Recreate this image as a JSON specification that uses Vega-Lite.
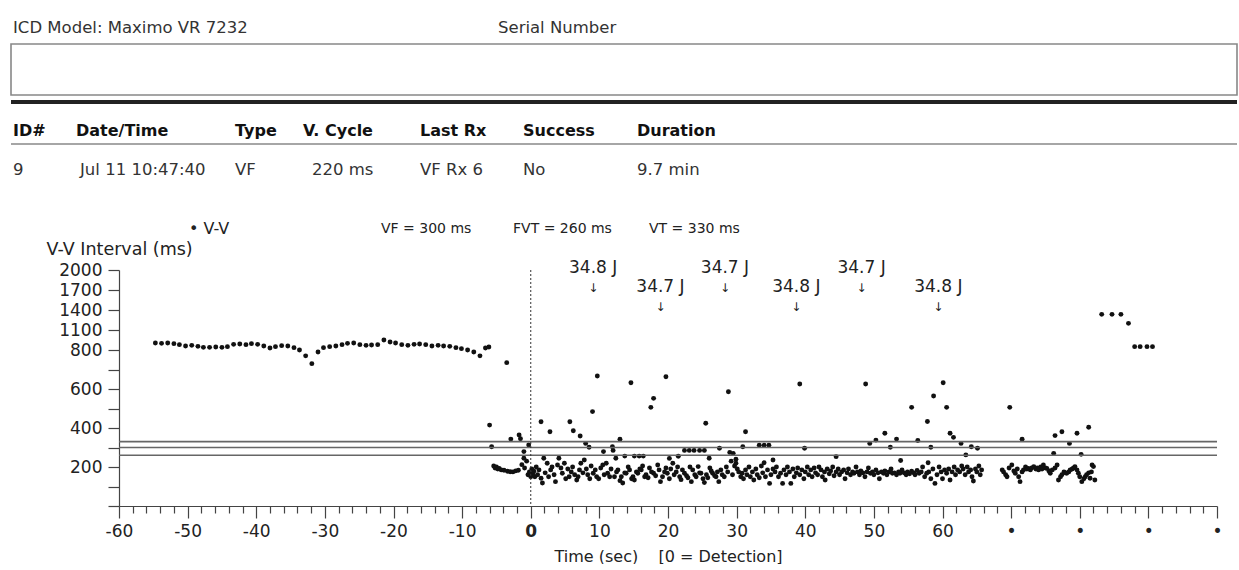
{
  "$schema": "https://vega.github.io/schema/vega-lite/v6.json",
  "autosize": {"type": "pad"},
  "padding": {"left": 9, "top": 0, "right": 0, "bottom": 0},
  "background": "white",
  "spacing": 0,
  "bounds": "flush",
  "config": {
    "view": {"stroke": null},
    "font": "DejaVu Sans",
    "axis": {"labelFont": "DejaVu Sans", "titleFont": "DejaVu Sans", "labelFontSize": 16, "titleFontSize": 16, "titleFontWeight": "normal", "labelColor": "#222", "titleColor": "#222", "domainColor": "#444", "tickColor": "#444", "domainWidth": 1.2, "tickWidth": 1.2, "grid": false}
  },
  "datasets": {
    "pts": [
      {"t":-54.7,"v":905},{"t":-53.8,"v":900},{"t":-52.9,"v":905},{"t":-52.0,"v":895},{"t":-51.2,"v":880},{"t":-50.3,"v":860},{"t":-49.4,"v":870},{"t":-48.5,"v":855},{"t":-47.7,"v":840},{"t":-46.8,"v":840},{"t":-45.9,"v":845},{"t":-45.0,"v":840},{"t":-44.2,"v":850},{"t":-43.3,"v":885},{"t":-42.4,"v":890},{"t":-41.5,"v":880},{"t":-40.7,"v":895},{"t":-39.8,"v":885},{"t":-38.9,"v":860},{"t":-38.0,"v":830},{"t":-37.2,"v":850},{"t":-36.3,"v":865},{"t":-35.4,"v":860},{"t":-34.5,"v":835},{"t":-33.7,"v":800},{"t":-32.8,"v":770},{"t":-31.9,"v":730},{"t":-31.0,"v":790},{"t":-30.2,"v":835},{"t":-29.3,"v":850},{"t":-28.4,"v":860},{"t":-27.5,"v":880},{"t":-26.7,"v":900},{"t":-25.8,"v":905},{"t":-24.9,"v":880},{"t":-24.0,"v":870},{"t":-23.2,"v":875},{"t":-22.3,"v":880},{"t":-21.4,"v":950},{"t":-20.5,"v":920},{"t":-19.7,"v":905},{"t":-18.8,"v":880},{"t":-17.9,"v":870},{"t":-17.0,"v":885},{"t":-16.2,"v":890},{"t":-15.3,"v":880},{"t":-14.4,"v":860},{"t":-13.5,"v":870},{"t":-12.7,"v":860},{"t":-11.8,"v":855},{"t":-10.9,"v":835},{"t":-10.1,"v":820},{"t":-9.2,"v":800},{"t":-8.3,"v":790},{"t":-7.4,"v":770},{"t":-6.6,"v":830},{"t":-6.1,"v":845},
      {"t":-6.0,"v":415},{"t":-5.7,"v":304},{"t":-3.5,"v":735},{"t":-2.9,"v":343},{"t":-1.7,"v":364},{"t":-1.5,"v":345},{"t":-1.0,"v":279},{"t":-1.0,"v":245},{"t":-0.3,"v":313},{"t":1.5,"v":432},{"t":2.8,"v":381},{"t":5.7,"v":432},{"t":6.2,"v":386},{"t":7.2,"v":359},{"t":8.0,"v":321},{"t":8.5,"v":301},{"t":9.0,"v":484},{"t":9.7,"v":667},{"t":10.6,"v":279},{"t":11.9,"v":304},{"t":12.0,"v":285},{"t":13.0,"v":342},{"t":12.4,"v":245},{"t":14.6,"v":632},{"t":13.7,"v":256},{"t":15.1,"v":256},{"t":15.8,"v":256},{"t":16.4,"v":256},{"t":17.5,"v":506},{"t":17.9,"v":552},{"t":19.7,"v":663},{"t":20.2,"v":244},{"t":21.5,"v":255},{"t":22.4,"v":285},{"t":23.1,"v":285},{"t":23.8,"v":285},{"t":24.6,"v":285},{"t":25.3,"v":285},{"t":25.5,"v":424},{"t":26.0,"v":245},{"t":27.5,"v":296},{"t":28.8,"v":586},{"t":29.0,"v":275},{"t":29.5,"v":270},{"t":29.9,"v":240},{"t":31.3,"v":381},{"t":30.9,"v":304},{"t":33.3,"v":312},{"t":34.0,"v":312},{"t":34.7,"v":312},{"t":34.0,"v":222},{"t":35.3,"v":236},{"t":39.2,"v":626},{"t":39.9,"v":296},{"t":44.5,"v":253},{"t":48.8,"v":626},{"t":49.4,"v":321},{"t":50.3,"v":338},{"t":51.6,"v":373},{"t":52.4,"v":301},{"t":53.3,"v":343},{"t":53.9,"v":233},{"t":55.5,"v":506},{"t":56.4,"v":336},{"t":57.8,"v":433},{"t":57.9,"v":222},{"t":58.3,"v":301},{"t":58.7,"v":564},{"t":60.1,"v":632},{"t":60.6,"v":506},{"t":61.1,"v":373},{"t":61.6,"v":352},{"t":62.7,"v":321},{"t":63.4,"v":262},{"t":64.2,"v":304},{"t":65.1,"v":296},{"t":69.8,"v":506},{"t":71.6,"v":342},{"t":76.2,"v":270},{"t":76.4,"v":361},{"t":77.4,"v":381},{"t":78.5,"v":321},{"t":79.6,"v":373},{"t":80.2,"v":265},{"t":81.3,"v":404},{"t":81.8,"v":210},
      {"t":-5.4,"v":205},{"t":-5.2,"v":195},{"t":-5.0,"v":200},{"t":-4.8,"v":190},{"t":-4.6,"v":192},{"t":-4.3,"v":185},{"t":-3.9,"v":183},{"t":-3.4,"v":178},{"t":-3.0,"v":176},{"t":-2.6,"v":175},{"t":-2.2,"v":180},{"t":-1.8,"v":183},{"t":-1.3,"v":212},{"t":-0.9,"v":195},{"t":-0.6,"v":230},{"t":-0.4,"v":160},{"t":-0.2,"v":175},{"t":0.0,"v":150},{"t":0.15,"v":190},{"t":0.3,"v":165},{"t":0.45,"v":178},{"t":0.6,"v":150},{"t":0.8,"v":200},{"t":1.0,"v":160},
      {"t":1.2,"v":185},{"t":1.5,"v":142},{"t":1.7,"v":118},{"t":1.9,"v":245},{"t":2.1,"v":170},{"t":2.4,"v":219},{"t":2.6,"v":150},{"t":2.9,"v":185},{"t":3.1,"v":200},{"t":3.4,"v":160},{"t":3.6,"v":125},{"t":3.9,"v":210},{"t":4.1,"v":245},{"t":4.4,"v":195},{"t":4.6,"v":168},{"t":4.9,"v":219},{"t":5.1,"v":140},{"t":5.4,"v":190},{"t":5.6,"v":150},{"t":5.9,"v":175},{"t":6.1,"v":200},{"t":6.4,"v":160},{"t":6.7,"v":133},{"t":6.9,"v":150},{"t":7.1,"v":185},{"t":7.3,"v":219},{"t":7.6,"v":170},{"t":7.8,"v":236},{"t":8.1,"v":190},{"t":8.3,"v":160},{"t":8.6,"v":140},{"t":8.8,"v":205},{"t":9.1,"v":168},{"t":9.4,"v":185},{"t":9.6,"v":150},{"t":9.9,"v":140},{"t":10.2,"v":195},{"t":10.5,"v":210},{"t":10.7,"v":160},{"t":11.0,"v":219},{"t":11.2,"v":168},{"t":11.5,"v":150},{"t":11.7,"v":190},{"t":12.2,"v":150},{"t":12.5,"v":175},{"t":12.7,"v":185},{"t":13.0,"v":130},{"t":13.2,"v":150},{"t":13.4,"v":118},{"t":13.7,"v":170},{"t":13.9,"v":168},{"t":14.2,"v":200},{"t":14.4,"v":185},{"t":14.7,"v":140},{"t":14.9,"v":150},{"t":15.1,"v":133},{"t":15.4,"v":175},{"t":15.6,"v":168},{"t":15.9,"v":190},{"t":16.1,"v":185},{"t":16.3,"v":205},{"t":16.6,"v":150},{"t":16.8,"v":160},{"t":17.1,"v":145},{"t":17.3,"v":195},{"t":17.6,"v":175},{"t":17.9,"v":168},{"t":18.2,"v":155},{"t":18.5,"v":210},{"t":18.7,"v":185},{"t":18.9,"v":125},{"t":19.2,"v":150},{"t":19.5,"v":175},{"t":19.7,"v":195},{"t":19.9,"v":168},{"t":20.2,"v":140},{"t":20.4,"v":190},{"t":20.7,"v":219},{"t":20.9,"v":160},{"t":21.2,"v":175},{"t":21.4,"v":200},{"t":21.7,"v":150},{"t":21.9,"v":135},{"t":22.1,"v":185},{"t":22.4,"v":168},{"t":22.7,"v":155},{"t":22.9,"v":145},{"t":23.2,"v":200},{"t":23.4,"v":125},{"t":23.6,"v":185},{"t":23.9,"v":160},{"t":24.1,"v":150},{"t":24.4,"v":202},{"t":24.6,"v":170},{"t":24.8,"v":168},{"t":25.1,"v":140},{"t":25.3,"v":120},{"t":25.6,"v":160},{"t":25.8,"v":145},{"t":26.1,"v":195},{"t":26.3,"v":180},{"t":26.5,"v":168},{"t":26.8,"v":155},{"t":27.0,"v":150},{"t":27.2,"v":175},{"t":27.4,"v":125},{"t":27.7,"v":185},{"t":27.9,"v":160},{"t":28.2,"v":150},{"t":28.5,"v":200},{"t":28.7,"v":175},{"t":29.2,"v":230},{"t":29.4,"v":160},
      {"t":29.7,"v":205},{"t":29.9,"v":219},{"t":30.1,"v":190},{"t":30.3,"v":175},{"t":30.6,"v":150},{"t":30.8,"v":168},{"t":31.0,"v":140},{"t":31.3,"v":185},{"t":31.5,"v":160},{"t":31.8,"v":200},{"t":32.0,"v":150},{"t":32.3,"v":175},{"t":32.5,"v":133},{"t":32.8,"v":190},{"t":33.0,"v":160},{"t":33.3,"v":145},{"t":33.6,"v":205},{"t":33.8,"v":170},{"t":34.2,"v":150},{"t":34.5,"v":185},{"t":34.8,"v":116},{"t":35.0,"v":160},{"t":35.3,"v":190},{"t":35.6,"v":175},{"t":35.8,"v":200},{"t":36.1,"v":150},{"t":36.4,"v":168},{"t":36.7,"v":116},{"t":36.9,"v":185},{"t":37.2,"v":160},{"t":37.4,"v":200},{"t":37.7,"v":175},{"t":37.9,"v":116},{"t":38.2,"v":190},{"t":38.4,"v":150},{"t":38.7,"v":170},{"t":38.9,"v":195},{"t":39.2,"v":160},{"t":39.5,"v":185},{"t":39.8,"v":140},{"t":40.0,"v":175},{"t":40.3,"v":200},{"t":40.5,"v":160},{"t":40.8,"v":185},{"t":41.0,"v":150},{"t":41.3,"v":195},{"t":41.5,"v":170},{"t":41.8,"v":160},{"t":42.0,"v":200},{"t":42.3,"v":185},{"t":42.5,"v":150},{"t":42.8,"v":175},{"t":42.9,"v":133},{"t":43.2,"v":190},{"t":43.5,"v":165},{"t":43.7,"v":180},{"t":44.0,"v":200},{"t":44.2,"v":155},{"t":44.5,"v":175},{"t":44.8,"v":190},{"t":45.0,"v":160},{"t":45.3,"v":175},{"t":45.6,"v":185},{"t":45.8,"v":140},{"t":46.1,"v":170},{"t":46.3,"v":190},{"t":46.6,"v":160},{"t":46.9,"v":175},{"t":47.1,"v":168},{"t":47.4,"v":200},{"t":47.6,"v":175},{"t":47.9,"v":160},{"t":48.1,"v":180},{"t":48.4,"v":170},{"t":48.7,"v":150},{"t":49.0,"v":175},{"t":49.2,"v":195},{"t":49.5,"v":168},{"t":49.8,"v":175},{"t":50.0,"v":160},{"t":50.3,"v":185},{"t":50.6,"v":170},{"t":50.8,"v":140},{"t":51.1,"v":175},{"t":51.4,"v":168},{"t":51.6,"v":180},{"t":51.9,"v":160},{"t":52.2,"v":175},{"t":52.5,"v":190},{"t":52.7,"v":168},{"t":53.0,"v":170},{"t":53.3,"v":160},{"t":53.6,"v":175},{"t":53.8,"v":168},{"t":54.1,"v":185},{"t":54.4,"v":170},{"t":54.7,"v":160},{"t":54.9,"v":175},{"t":55.2,"v":165},{"t":55.5,"v":178},{"t":55.8,"v":170},{"t":56.0,"v":160},{"t":56.3,"v":182},{"t":56.6,"v":168},{"t":56.9,"v":175},{"t":57.1,"v":200},{"t":57.4,"v":150},{"t":57.7,"v":168},{"t":58.0,"v":175},{"t":58.3,"v":140},{"t":58.6,"v":190},{"t":58.9,"v":116},{"t":59.2,"v":160},{"t":59.5,"v":200},{"t":59.8,"v":175},{"t":60.0,"v":140},{"t":60.3,"v":185},{"t":60.6,"v":168},{"t":60.9,"v":190},{"t":61.1,"v":133},{"t":61.4,"v":175},{"t":61.7,"v":200},{"t":61.9,"v":160},{"t":62.2,"v":185},{"t":62.5,"v":175},{"t":62.8,"v":205},{"t":63.0,"v":190},{"t":63.3,"v":160},{"t":63.6,"v":200},{"t":63.8,"v":175},{"t":64.1,"v":185},{"t":64.3,"v":150},{"t":64.5,"v":128},{"t":64.8,"v":190},{"t":65.0,"v":175},{"t":65.3,"v":205},{"t":65.5,"v":160},{"t":65.7,"v":185},
      {"t":68.7,"v":185},{"t":68.9,"v":175},{"t":69.2,"v":160},{"t":69.4,"v":150},{"t":69.7,"v":195},{"t":70.1,"v":210},{"t":70.4,"v":180},{"t":70.6,"v":168},{"t":70.9,"v":190},{"t":71.1,"v":150},{"t":71.3,"v":125},{"t":71.6,"v":175},{"t":71.8,"v":185},{"t":72.1,"v":200},{"t":72.3,"v":190},{"t":72.5,"v":193},{"t":72.8,"v":185},{"t":73.0,"v":195},{"t":73.3,"v":202},{"t":73.6,"v":190},{"t":73.8,"v":195},{"t":74.0,"v":185},{"t":74.3,"v":200},{"t":74.5,"v":190},{"t":74.7,"v":210},{"t":75.0,"v":195},{"t":75.2,"v":193},{"t":75.5,"v":180},{"t":75.7,"v":168},{"t":76.0,"v":185},{"t":76.4,"v":195},{"t":76.7,"v":210},{"t":76.9,"v":133},{"t":77.2,"v":150},{"t":77.4,"v":160},{"t":77.7,"v":175},{"t":77.9,"v":170},{"t":78.1,"v":168},{"t":78.4,"v":175},{"t":78.6,"v":185},{"t":78.9,"v":190},{"t":79.1,"v":195},{"t":79.3,"v":202},{"t":79.6,"v":185},{"t":79.8,"v":168},{"t":80.0,"v":150},{"t":80.3,"v":125},{"t":80.6,"v":140},{"t":80.8,"v":150},{"t":81.0,"v":160},{"t":81.3,"v":170},{"t":81.5,"v":142},{"t":81.7,"v":175},{"t":82.0,"v":202},{"t":82.2,"v":133},
      {"t":83.2,"v":1335},{"t":84.7,"v":1335},{"t":86.0,"v":1335},{"t":87.1,"v":1200},{"t":88.0,"v":850},{"t":88.8,"v":850},{"t":89.8,"v":850},{"t":90.6,"v":850}
    ],
    "zones": [{"zone":"VT","ms":330},{"zone":"VF","ms":300},{"zone":"FVT","ms":260}],
    "shocks": [
      {"t":9.1,"e":"34.8 J","tier":"high"},{"t":18.9,"e":"34.7 J","tier":"low"},{"t":28.3,"e":"34.7 J","tier":"high"},
      {"t":38.7,"e":"34.8 J","tier":"low"},{"t":48.2,"e":"34.7 J","tier":"high"},{"t":59.4,"e":"34.8 J","tier":"low"}
    ],
    "hdr": [
      {"txt":"ICD Model: Maximo VR 7232","c":1,"r":0,"s":"plain"},
      {"txt":"Serial Number","c":10,"r":0,"s":"plain"},
      {"txt":"ID#","c":1,"r":4,"s":"bold"},{"txt":"Date/Time","c":2,"r":4,"s":"bold"},{"txt":"Type","c":5,"r":4,"s":"bold"},{"txt":"V. Cycle","c":6,"r":4,"s":"bold"},{"txt":"Last Rx","c":9,"r":4,"s":"bold"},{"txt":"Success","c":12,"r":4,"s":"bold"},{"txt":"Duration","c":13,"r":4,"s":"bold"},
      {"txt":"9","c":1,"r":6,"s":"plain"},{"txt":"Jul 11 10:47:40","c":3,"r":6,"s":"plain"},{"txt":"VF","c":5,"r":6,"s":"plain"},{"txt":"220 ms","c":7,"r":6,"s":"plain"},{"txt":"VF Rx 6","c":9,"r":6,"s":"plain"},{"txt":"No","c":12,"r":6,"s":"plain"},{"txt":"9.7 min","c":13,"r":6,"s":"plain"},
      {"txt":"•\u00a0V-V","c":4,"r":7,"s":"key"},{"txt":"VF = 300 ms","c":8,"r":7,"s":"legend"},{"txt":"FVT = 260 ms","c":11,"r":7,"s":"legend"},{"txt":"VT = 330 ms","c":14,"r":7,"s":"legend"}
    ],
    "hlines": [
      {"kind":"box","c":0,"c2":15,"r":1,"r2":2},
      {"kind":"thick","c":0,"c2":15,"r":3,"r2":3},
      {"kind":"thin","c":0,"c2":15,"r":5,"r2":5}
    ]
  },
  "vconcat": [
    {
      "width": 1098,
      "height": 270,
      "encoding": {
        "x": {"field": "c", "type": "quantitative", "scale": {"domain": [0,1,2,3,4,5,6,7,8,9,10,11,12,13,14,15], "range": [-108,-106,-43,-39,70,116,184,193,262,301,379,394,404,518,530,1118], "nice": false, "zero": false}, "axis": null},
        "y": {"field": "r", "type": "quantitative", "scale": {"domain": [0,1,2,3,4,5,6,7], "range": [28,44,95,102,131,144,170,229], "nice": false, "zero": false}, "axis": null}
      },
      "layer": [
        {
          "data": {"name": "hlines"},
          "transform": [{"filter": "datum.kind === 'box'"}],
          "mark": {"type": "rect", "fill": null, "fillOpacity": 0, "stroke": "#888", "strokeWidth": 1.6},
          "encoding": {"x2": {"field": "c2"}, "y2": {"field": "r2"}}
        },
        {
          "data": {"name": "hlines"},
          "transform": [{"filter": "datum.kind === 'thick'"}],
          "mark": {"type": "rule", "color": "#222", "strokeWidth": 4},
          "encoding": {"x2": {"field": "c2"}}
        },
        {
          "data": {"name": "hlines"},
          "transform": [{"filter": "datum.kind === 'thin'"}],
          "mark": {"type": "rule", "color": "#888", "strokeWidth": 1.6},
          "encoding": {"x2": {"field": "c2"}}
        },
        {
          "data": {"name": "hdr"},
          "transform": [{"filter": "datum.s === 'plain'"}],
          "mark": {"type": "text", "font": "DejaVu Sans", "fontSize": 16.5, "color": "#333", "align": "left", "baseline": "middle"},
          "encoding": {"text": {"field": "txt"}}
        },
        {
          "data": {"name": "hdr"},
          "transform": [{"filter": "datum.s === 'bold'"}],
          "mark": {"type": "text", "font": "DejaVu Sans", "fontSize": 16, "fontWeight": "bold", "color": "#111", "align": "left", "baseline": "middle"},
          "encoding": {"text": {"field": "txt"}}
        },
        {
          "data": {"name": "hdr"},
          "transform": [{"filter": "datum.s === 'legend'"}],
          "mark": {"type": "text", "font": "DejaVu Sans", "fontSize": 14, "color": "#222", "align": "left", "baseline": "middle"},
          "encoding": {"text": {"field": "txt"}}
        },
        {
          "data": {"name": "hdr"},
          "transform": [{"filter": "datum.s === 'key'"}],
          "mark": {"type": "text", "font": "DejaVu Sans", "fontSize": 16, "color": "#222", "align": "left", "baseline": "middle"},
          "encoding": {"text": {"field": "txt"}}
        }
      ]
    },
    {
      "width": 1098,
      "height": 236,
      "resolve": {"axis": {"x": "independent", "y": "independent"}},
      "layer": [
        {
          "data": {"name": "pts"},
          "mark": {"type": "circle", "color": "#111", "opacity": 1, "size": 24},
          "encoding": {
            "x": {
              "field": "t", "type": "quantitative",
              "scale": {"domain": [-60, 100], "nice": false, "zero": false},
              "axis": {
                "orient": "bottom",
                "values": [-60,-50,-40,-30,-20,-10,0,10,20,30,40,50,60,70,80,90,100],
                "labelExpr": "datum.value > 60 ? '•' : '' + datum.value",
                "tickSize": 12,
                "labelFontSize": 17,
                "labelFontWeight": {"condition": {"test": "datum.value === 0", "value": "bold"}, "value": "normal"},
                "labelPadding": 5,
                "labelOverlap": false,
                "labelFlush": false,
                "labelBound": false,
                "title": "Time (sec)\u00a0\u00a0\u00a0\u00a0[0 = Detection]",
                "titleY": 50,
                "titleBaseline": "middle"
              }
            },
            "y": {
              "field": "v", "type": "quantitative",
              "scale": {"domain": [0, 800, 2000], "range": [236, 80, 0], "nice": false, "zero": false},
              "axis": {
                "orient": "left",
                "values": [0, 100, 200, 300, 400, 500, 600, 700, 800, 1100, 1400, 1700, 2000],
                "labelExpr": "(datum.value == 0 || datum.value == 100 || datum.value == 300 || datum.value == 500 || datum.value == 700) ? '' : '' + datum.value",
                "tickSize": 11,
                "labelFontSize": 17,
                "labelPadding": 6,
                "labelOverlap": false,
                "labelBound": false,
                "labelFlush": false,
                "title": "V-V Interval (ms)",
                "titleFontSize": 17.5,
                "titleAngle": 0,
                "titleAlign": "left",
                "titleBaseline": "middle",
                "titleX": -73,
                "titleY": -21
              }
            }
          }
        },
        {
          "data": {"name": "zones"},
          "mark": {"type": "rule", "color": "#666", "strokeWidth": 1.6},
          "encoding": {
            "y": {"field": "ms", "type": "quantitative", "axis": null}
          }
        },
        {
          "data": {"values": [{"t": 0}]},
          "mark": {"type": "rule", "color": "#333", "strokeWidth": 1, "strokeDash": [2, 2]},
          "encoding": {
            "x": {
              "field": "t", "type": "quantitative",
              "axis": {
                "orient": "bottom",
                "values": [-58,-56,-54,-52,-48,-46,-44,-42,-38,-36,-34,-32,-28,-26,-24,-22,-18,-16,-14,-12,-8,-6,-4,-2,2,4,6,8,12,14,16,18,22,24,26,28,32,34,36,38,42,44,46,48,52,54,56,58,62,64,66,68,72,74,76,78,82,84,86,88,92,94,96,98],
                "tickSize": 7,
                "labels": false,
                "domain": false,
                "title": null
              }
            }
          }
        },
        {
          "data": {"name": "shocks"},
          "transform": [{"filter": "datum.tier === 'high'"}],
          "layer": [
            {"mark": {"type": "text", "font": "DejaVu Sans", "fontSize": 17, "color": "#222", "baseline": "middle", "align": "center", "dy": -120}, "encoding": {"text": {"field": "e"}}},
            {"mark": {"type": "text", "font": "DejaVu Sans", "fontSize": 12, "color": "#222", "baseline": "middle", "align": "center", "dy": -100, "text": "↓"}, "encoding": {}}
          ],
          "encoding": {
            "x": {"field": "t", "type": "quantitative", "axis": null}
          }
        },
        {
          "data": {"name": "shocks"},
          "transform": [{"filter": "datum.tier === 'low'"}],
          "layer": [
            {"mark": {"type": "text", "font": "DejaVu Sans", "fontSize": 17, "color": "#222", "baseline": "middle", "align": "center", "dy": -101}, "encoding": {"text": {"field": "e"}}},
            {"mark": {"type": "text", "font": "DejaVu Sans", "fontSize": 12, "color": "#222", "baseline": "middle", "align": "center", "dy": -81, "text": "↓"}, "encoding": {}}
          ],
          "encoding": {
            "x": {"field": "t", "type": "quantitative", "axis": null}
          }
        }
      ]
    }
  ]
}
